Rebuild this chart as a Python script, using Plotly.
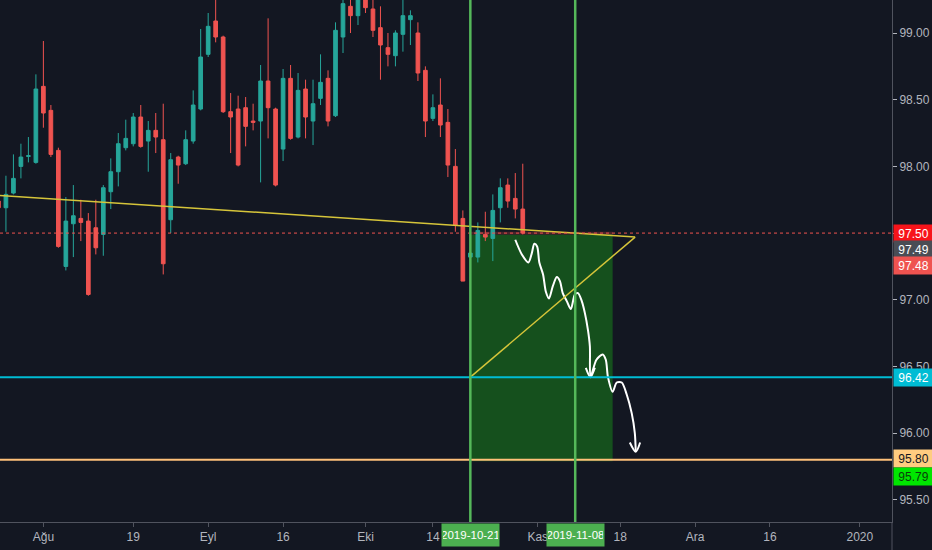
import plotly.graph_objects as go

# daily candles (weekdays only)
dates = [
    "2019-07-24", "2019-07-25", "2019-07-26", "2019-07-29", "2019-07-30", "2019-07-31",
    "2019-08-01", "2019-08-02", "2019-08-05", "2019-08-06", "2019-08-07", "2019-08-08",
    "2019-08-09", "2019-08-12", "2019-08-13", "2019-08-14", "2019-08-15", "2019-08-16",
    "2019-08-19", "2019-08-20", "2019-08-21", "2019-08-22", "2019-08-23", "2019-08-26",
    "2019-08-27", "2019-08-28", "2019-08-29", "2019-08-30", "2019-09-02", "2019-09-03",
    "2019-09-04", "2019-09-05", "2019-09-06", "2019-09-09", "2019-09-10", "2019-09-11",
    "2019-09-12", "2019-09-13", "2019-09-16", "2019-09-17", "2019-09-18", "2019-09-19",
    "2019-09-20", "2019-09-23", "2019-09-24", "2019-09-25", "2019-09-26", "2019-09-27",
    "2019-09-30", "2019-10-01", "2019-10-02", "2019-10-03", "2019-10-04", "2019-10-07",
    "2019-10-08", "2019-10-09", "2019-10-10", "2019-10-11", "2019-10-14", "2019-10-15",
    "2019-10-16", "2019-10-17", "2019-10-18", "2019-10-21", "2019-10-22", "2019-10-23",
    "2019-10-24", "2019-10-25", "2019-10-28", "2019-10-29", "2019-10-30",
]
opens = [
    97.74, 97.69, 97.80, 98.00, 98.075, 98.03,
    98.60, 98.42, 98.12, 97.25, 97.57, 97.61,
    97.59, 97.54, 97.49, 97.81, 97.96, 98.14,
    98.17, 98.37, 98.19, 98.27, 98.20, 97.60,
    98.07, 98.02, 98.19, 98.43, 98.84, 99.09,
    98.97, 98.41, 98.43, 98.44, 98.34, 98.34,
    98.64, 98.43, 98.13, 98.66, 98.22, 98.58,
    98.34, 98.51, 98.66, 98.38, 98.97, 99.20,
    99.13, 99.30, 99.18, 99.04, 98.89, 98.83,
    98.99, 99.10, 99.00, 98.72, 98.36, 98.46,
    98.33, 98.00, 97.61, 97.32, 97.32, 97.49,
    97.46, 97.69, 97.86, 97.76, 97.68,
]
highs = [
    97.76, 97.93, 98.09, 98.17, 98.22, 98.69,
    98.94, 98.46, 98.14, 97.77, 97.86, 97.75,
    97.65, 97.75, 97.86, 98.06, 98.25, 98.35,
    98.40, 98.46, 98.34, 98.40, 98.47, 98.10,
    98.08, 98.27, 98.57, 99.03, 99.15, 99.28,
    98.98, 98.55, 98.53, 98.52, 98.47, 98.76,
    99.11, 98.44, 98.73, 98.76, 98.70, 98.65,
    98.65, 98.84, 98.72, 99.08, 99.28, 99.27,
    99.33, 99.36, 99.27, 99.20, 99.00, 99.02,
    99.27, 99.17, 99.08, 98.75, 98.54, 98.66,
    98.43, 98.13, 97.67, 97.37, 97.58, 97.66,
    97.79, 97.91, 97.91, 97.95, 98.02,
]
lows = [
    97.66, 97.51, 97.79, 97.91, 98.03, 98.02,
    98.29, 98.07, 97.39, 97.22, 97.32, 97.44,
    97.03, 97.34, 97.33, 97.68, 97.85, 98.12,
    98.15, 98.14, 97.96, 98.10, 97.19, 97.50,
    97.87, 98.01, 98.17, 98.42, 98.82, 98.93,
    98.40, 98.10, 98.00, 98.15, 98.27, 97.88,
    98.21, 97.85, 98.04, 98.20, 98.21, 98.21,
    98.16, 98.46, 98.30, 98.37, 98.85, 99.00,
    99.06, 99.15, 98.97, 98.65, 98.75, 98.75,
    98.86, 98.91, 98.64, 98.22, 98.34, 98.22,
    97.92, 97.51, 97.14, 97.30, 97.28, 97.44,
    97.29, 97.58, 97.69, 97.61, 97.49,
]
closes = [
    97.69, 97.79, 97.91, 98.07, 98.08, 98.58,
    98.40, 98.09, 97.40, 97.59, 97.63, 97.58,
    97.04, 97.39, 97.84, 97.96, 98.17, 98.21,
    98.37, 98.15, 98.27, 98.22, 97.27, 98.05,
    98.01, 98.20, 98.46, 98.82, 99.05, 98.97,
    98.41, 98.37, 98.01, 98.30, 98.33, 98.64,
    98.44, 97.86, 98.66, 98.21, 98.57, 98.37,
    98.47, 98.63, 98.34, 99.02, 99.22, 99.13,
    99.29, 99.19, 99.02, 98.91, 98.84, 99.00,
    99.13, 99.13, 98.70, 98.34, 98.44, 98.31,
    98.01, 97.56, 97.14, 97.35, 97.52, 97.47,
    97.67, 97.84, 97.74, 97.68, 97.50,
]

# x-axis labels (Turkish months)
tick_dates = ["2019-08-01", "2019-08-19", "2019-09-02", "2019-09-16", "2019-10-01", "2019-10-14",
              "2019-11-01", "2019-11-18", "2019-12-02", "2019-12-16", "2020-01-01"]
tick_text = ["Ağu", "19", "Eyl", "16", "Eki", "14", "Kas", "18", "Ara", "16", "2020"]
y_ticks = [95.5, 96.0, 96.5, 97.0, 97.5, 98.0, 98.5, 99.0]

# drawings
last_price = 97.50
support_1 = 96.42
support_2 = 95.80
entry_date, target_date = "2019-10-21", "2019-11-08"
box_end = "2019-11-15"
entry_price, stop_price, target_price = 97.49, 97.51, 95.79
trend_x = ["2019-07-22", "2019-11-20"]
trend_y = [97.79, 97.47]
wedge_x = ["2019-10-21", "2019-11-20"]
wedge_y = [96.42, 97.47]

# hand-drawn arrow
arrow_x = [
    "2019-10-29 00:00", "2019-10-29 21:00", "2019-10-30 18:00", "2019-10-31 05:00",
    "2019-10-31 13:00", "2019-10-31 22:00", "2019-11-01 05:00", "2019-11-01 17:00",
    "2019-11-04 02:00", "2019-11-04 12:00", "2019-11-05 00:00", "2019-11-05 13:00",
    "2019-11-05 23:00", "2019-11-06 08:00", "2019-11-06 21:00", "2019-11-07 10:00",
    "2019-11-07 23:00", "2019-11-08 09:00", "2019-11-08 21:00", "2019-11-11 07:00",
    "2019-11-11 17:00", "2019-11-11 23:00", "2019-11-12 01:00", "2019-11-12 20:00",
    "2019-11-13 16:00", "2019-11-14 02:00", "2019-11-14 09:00", "2019-11-15 00:00",
    "2019-11-15 13:00", "2019-11-18 05:00", "2019-11-18 21:00", "2019-11-19 13:00",
    "2019-11-19 23:00", "2019-11-20 02:00",
    None, "2019-11-11 10:00", "2019-11-12 01:00", "2019-11-12 15:00",
    None, "2019-11-19 07:00", "2019-11-20 02:00", "2019-11-20 16:00",
]
arrow_y = [
    97.45, 97.34, 97.28, 97.35,
    97.42, 97.40, 97.28, 97.19,
    97.06, 97.01, 97.10, 97.17,
    97.14, 97.05, 96.99, 96.93,
    97.04, 97.05, 96.99, 96.90,
    96.77, 96.65, 96.42, 96.55,
    96.59, 96.55, 96.42, 96.31,
    96.38, 96.38, 96.29, 96.15,
    96.00, 95.86,
    None, 96.49, 96.42, 96.49,
    None, 95.93, 95.86, 95.93,
]

BG = "#131722"
TXT = "#b2b5be"
AXIS = "#50535e"
FONT = "Liberation Sans, Arial, sans-serif"

fig = go.Figure()

fig.add_trace(go.Candlestick(
    x=dates, open=opens, high=highs, low=lows, close=closes,
    increasing=dict(line=dict(color="#26a69a", width=1), fillcolor="#26a69a"),
    decreasing=dict(line=dict(color="#ef5350", width=1), fillcolor="#ef5350"),
    whiskerwidth=0, hoverinfo="skip",
))

fig.add_trace(go.Scatter(
    x=arrow_x, y=arrow_y, mode="lines",
    line=dict(color="white", width=2, shape="spline", smoothing=0.8),
    connectgaps=False, hoverinfo="skip",
))

# position box (profit zone + tiny stop zone)
fig.add_shape(type="rect", x0=entry_date, x1=box_end, y0=target_price, y1=entry_price,
              fillcolor="#15501d", line_width=0, layer="below")
fig.add_shape(type="rect", x0=entry_date, x1=box_end, y0=entry_price, y1=stop_price,
              fillcolor="#4a222a", line_width=0, layer="below")

# horizontal levels
fig.add_hline(y=last_price, line=dict(color="#ef5350", width=1, dash="dot"))
fig.add_hline(y=support_1, line=dict(color="#00bcd4", width=2))
fig.add_hline(y=support_2, line=dict(color="#ffc17a", width=2))

# trend lines
fig.add_trace(go.Scatter(x=trend_x, y=trend_y, mode="lines",
                         line=dict(color="#d6c53a", width=1.5), hoverinfo="skip"))
fig.add_trace(go.Scatter(x=wedge_x, y=wedge_y, mode="lines",
                         line=dict(color="#d6c53a", width=1.5), hoverinfo="skip"))

# vertical date lines
for d in (entry_date, target_date):
    fig.add_vline(x=d, line=dict(color="#55b85a", width=2.5))
    fig.add_annotation(x=d, xref="x", y=0, yref="paper", yanchor="top", yshift=-1,
                       text=d, showarrow=False, bgcolor="#4caf50",
                       font=dict(color="white", size=11.5, family=FONT),
                       width=55, height=20, borderpad=1)

# right-axis price labels
price_tags = [
    (97.50, "97.50", "#f7141a", "white", 0),
    (97.49, "97.49", "#4a4d55", "white", -15),
    (97.48, "97.48", "#ef5350", "white", -30),
    (support_1, "96.42", "#00bcd4", "white", 0),
    (support_2, "95.80", "#ffcc80", "#131722", 1),
    (target_price, "95.79", "#00e600", "#0b3d0b", -15),
]
for val, txt, bg, fg, shift in price_tags:
    fig.add_annotation(x=1, xref="paper", xanchor="left", xshift=1, y=val, yref="y",
                       yshift=shift, text=txt, showarrow=False, bgcolor=bg,
                       font=dict(color=fg, size=12, family=FONT),
                       width=37, height=15, borderpad=1)

# price axis line continues into the date strip
fig.add_shape(type="line", xref="paper", yref="paper", x0=1, x1=1, y0=0, y1=-0.06,
              line=dict(color=AXIS, width=1))

fig.update_layout(
    width=932, height=550,
    margin=dict(l=0, r=40, t=0, b=28),
    paper_bgcolor=BG, plot_bgcolor=BG,
    showlegend=False,
    font=dict(family=FONT, color=TXT, size=12),
)
fig.update_xaxes(
    type="date",
    range=["2019-07-24 05:00", "2020-01-07 07:00"],
    rangebreaks=[dict(bounds=["sat", "mon"])],
    rangeslider_visible=False,
    tickvals=tick_dates, ticktext=tick_text,
    ticks="outside", ticklen=4, tickcolor=AXIS,
    showline=True, linecolor=AXIS, showgrid=False, zeroline=False,
    tickfont=dict(color=TXT, size=12),
)
fig.update_yaxes(
    side="right",
    range=[95.334, 99.2474],
    tickvals=y_ticks, tickformat=".2f",
    ticks="outside", ticklen=4, tickcolor=TXT,
    showline=True, linecolor=AXIS, showgrid=False, zeroline=False,
    tickfont=dict(color=TXT, size=12),
)

# page margin off so the figure sits at the window corner
fig.write_html("out.html", config={"displayModeBar": False},
               post_script="document.body.style.margin='0';")
